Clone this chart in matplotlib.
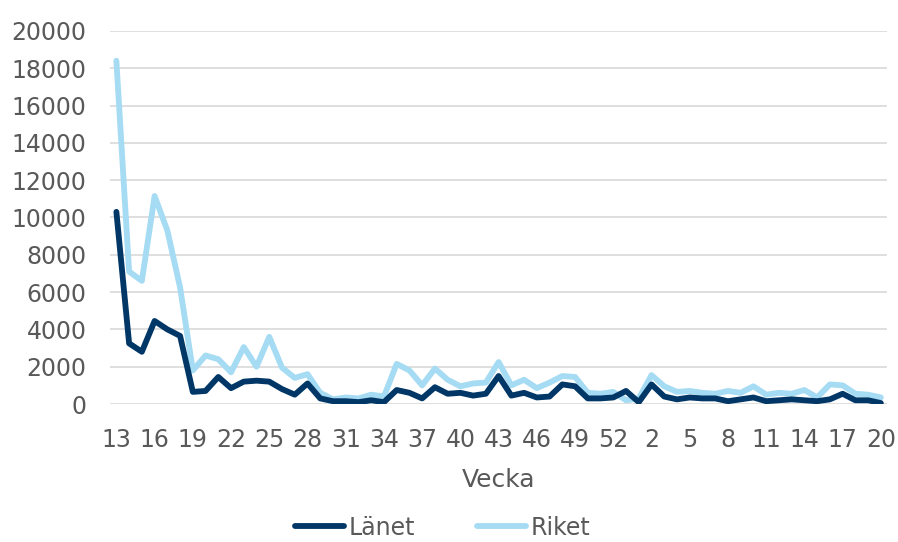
import numpy as np
import matplotlib.pyplot as plt

plt.rcParams['font.family'] = ['DejaVu Sans']

# veckor 13-53 (2020) och 1-20 (2021)
veckor = list(range(13, 54)) + list(range(1, 21))

lanet = [10300, 3250, 2800, 4450, 4000, 3650, 650, 700, 1450, 850,
         1200, 1250, 1200, 800, 500, 1100, 300, 150, 150, 100,
         200, 100, 750, 600, 300, 900, 550, 600, 450, 550,
         1500, 450, 600, 350, 400, 1050, 950, 300, 300, 350,
         700, 100, 1050, 400, 250, 350, 300, 300, 150, 250,
         350, 150, 200, 250, 200, 150, 250, 550, 200, 200, 50]

riket = [18400, 7100, 6600, 11150, 9300, 6250, 1800, 2600, 2400, 1700,
         3050, 2000, 3600, 1950, 1400, 1600, 600, 250, 350, 300,
         500, 400, 2150, 1800, 1000, 1900, 1300, 950, 1100, 1150,
         2250, 1000, 1300, 850, 1150, 1500, 1450, 600, 550, 650,
         200, 300, 1550, 950, 650, 700, 600, 550, 700, 600,
         950, 500, 600, 550, 750, 350, 1050, 1000, 550, 500, 350]

x = np.arange(len(veckor))

fig = plt.figure(figsize=(8.98, 5.42), dpi=100)
ax = fig.add_axes([0.1225, 0.2546, 0.8655, 0.6884])

ax.plot(x, lanet, color='#003767', lw=4.2, label='Länet', solid_capstyle='round', zorder=3)
ax.plot(x, riket, color='#A5DBF3', lw=4.2, label='Riket', solid_capstyle='round', zorder=2)

ax.set_xlim(-0.5, len(veckor) - 0.5)
ax.set_ylim(0, 20000)
ax.set_yticks(np.arange(0, 20001, 2000))
ax.set_xticks(x[::3])
ax.set_xticklabels([str(v) for v in veckor[::3]])

ax.grid(axis='y', color='#d9d9d9', lw=1.2)
ax.set_axisbelow(True)
for s in ax.spines.values():
    s.set_visible(False)
ax.tick_params(axis='both', length=0, labelsize=17, labelcolor='#595959')
ax.tick_params(axis='x', pad=17)
ax.tick_params(axis='y', pad=17)

ax.set_xlabel('Vecka', fontsize=18, color='#595959', labelpad=12)

fig.legend(loc='lower center', bbox_to_anchor=(0.493, -0.022), ncol=2, frameon=False,
           fontsize=17, handlelength=2.1, handletextpad=0.2, columnspacing=2.6,
           borderpad=0.1, labelcolor='#595959')

fig.savefig('out.png', dpi=100)
